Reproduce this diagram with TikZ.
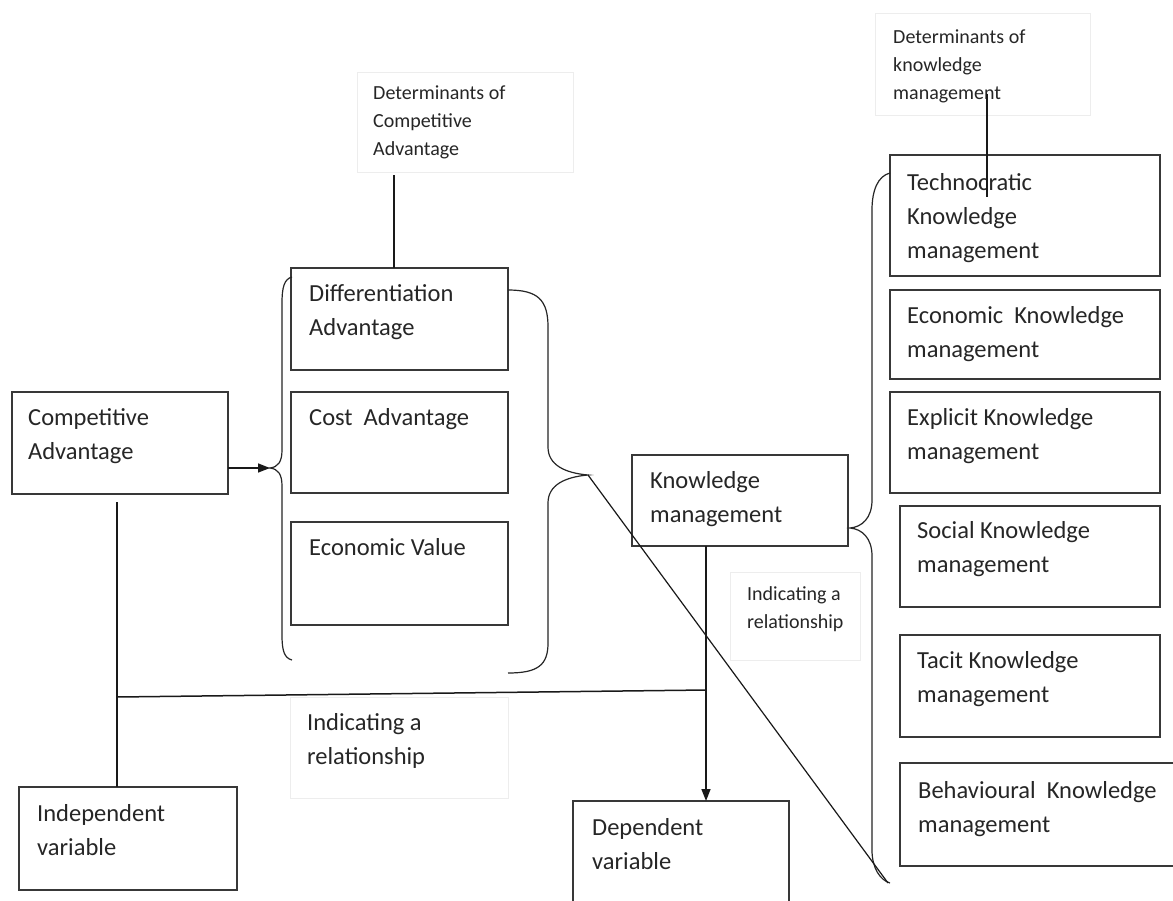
\documentclass[tikz,border=0pt]{standalone}
\usepackage{fontspec}
\setmainfont{Carlito}
\usetikzlibrary{arrows.meta}
\newcommand\bigf{\fontsize{24.5}{34}\selectfont}
\newcommand\smallf{\fontsize{20}{28}\selectfont}
\begin{document}
\begin{tikzpicture}[x=1pt,y=-1pt,
 box/.style={draw=black!78, line width=1.5pt, rectangle, anchor=north west, inner sep=0pt, outer sep=0pt},
 faint/.style={draw=black!7, line width=0.8pt, rectangle, anchor=north west, inner sep=0pt, outer sep=0pt},
 txt/.style={anchor=north west, inner sep=0pt, align=left, font=\bigf, text=black!85},
 stxt/.style={txt, font=\smallf},
 conn/.style={draw=black!90, line width=1.5pt},
 arr/.style={conn, -{Triangle[length=12pt,width=9pt]}},
 brace/.style={draw=black!85, line width=1.2pt}]
\useasboundingbox (0,0) rectangle (1173,900);
\fill[white] (0,0) rectangle (1173,900);
\clip (0,0) rectangle (1173,900);

% faint text frames
\node[faint, minimum width=216, minimum height=100] (dca) at (357,72) {};
\node[faint, minimum width=215, minimum height=102] (dkm) at (875,13) {};
\node[faint, minimum width=130, minimum height=88] (ir) at (730,572) {};
\node[faint, minimum width=218, minimum height=101] (ib) at (290,697) {};

% boxes
\node[box, minimum width=216, minimum height=102] (ca) at (12,392) {};
\node[box, minimum width=217, minimum height=102] (diff) at (291,268) {};
\node[box, minimum width=217, minimum height=101] (cost) at (291,392) {};
\node[box, minimum width=217, minimum height=103] (ev) at (291,522) {};
\node[box, minimum width=216, minimum height=91] (km) at (632,455) {};
\node[box, minimum width=216, minimum height=109] (dep) at (573,801) {};
\node[box, minimum width=218, minimum height=103] (ind) at (19,787) {};
\node[box, minimum width=270, minimum height=121] (tech) at (890,155) {};
\node[box, minimum width=270, minimum height=89] (eco) at (890,290) {};
\node[box, minimum width=270, minimum height=101] (expl) at (890,392) {};
\node[box, minimum width=260, minimum height=101] (soc) at (900,506) {};
\node[box, minimum width=260, minimum height=102] (tac) at (900,635) {};
\node[box, minimum width=285, minimum height=103] (beh) at (900,763) {};

% texts
\node[txt] (tca) at (28,401.2) {\strut Competitive\\Advantage};
\node[txt] (tdiff) at (309,277.2) {\strut Differentiation\\Advantage};
\node[txt] (tcost) at (309,401.2) {\strut Cost\ \ Advantage};
\node[txt] (tev) at (309,531.2) {\strut Economic Value};
\node[txt] (tkm) at (650,464.2) {\strut Knowledge\\management};
\node[txt] (tdep) at (592,811.2) {\strut Dependent\\variable};
\node[txt] (tind) at (37,797.2) {\strut Independent\\variable};
\node[txt] (ttech) at (907,166.2) {\strut Technocratic\\Knowledge\\management};
\node[txt] (teco) at (907,299.2) {\strut Economic\ \ Knowledge\\management};
\node[txt] (texpl) at (907,401.2) {\strut Explicit Knowledge\\management};
\node[txt] (tsoc) at (917,514.2) {\strut Social Knowledge\\management};
\node[txt] (ttac) at (917,644.2) {\strut Tacit Knowledge\\management};
\node[txt] (tbeh) at (918,774.2) {\strut Behavioural\ \ Knowledge\\management};
\node[txt] (tib) at (307,706.2) {\strut Indicating a\\relationship};
\node[stxt] (tdca) at (373,79.4) {\strut Determinants of\\Competitive\\Advantage};
\node[stxt] (tdkm) at (893,23.4) {\strut Determinants of\\knowledge\\management};
\node[stxt] (tir) at (747,580.4) {\strut Indicating a\\relationship};

% brace coordinates
\coordinate (lt) at (270,468);
\coordinate (rt) at (588,475);
\coordinate (kmt) at (850,528);
\coordinate (kme) at (888,883);

% braces
\draw[brace] (292,277) .. controls (284,279) and (282,288) .. (282,303) -- (282,450)
  .. controls (282,462) and (278,467) .. (lt)
  .. controls (278,469) and (282,474) .. (282,486) -- (282,635)
  .. controls (282,650) and (284,658) .. (292,660);
\draw[brace] (508,290) .. controls (538,290) and (548,300) .. (548,327) -- (548,447)
  .. controls (548,465) and (565,473) .. (rt)
  .. controls (565,477) and (548,485) .. (548,503) -- (548,643)
  .. controls (548,665) and (538,673) .. (508,673);
\draw[brace] (890,173) .. controls (878,176) and (872,190) .. (872,210) -- (872,500)
  .. controls (872,518) and (862,527) .. (kmt)
  .. controls (862,529) and (872,538) .. (872,556) -- (872,850)
  .. controls (872,868) and (880,880) .. (890,883);

% connectors
\coordinate (cab) at (117,502);
\coordinate (hl) at (117,697);
\coordinate (hr) at (706,690);
\coordinate (dcl) at (394,175);
\coordinate (dkl) at (987,94);
\coordinate (dke) at (987,197);
\draw[arr] (ca.east |- lt) -- (lt);
\draw[conn] (cab) -- (cab |- ind.north);
\draw[conn] (hl) -- (hr);
\draw[arr] (km.south -| hr) -- (dep.north -| hr);
\draw[conn] (dcl) -- (dcl |- diff.north);
\draw[conn] (dkl) -- (dke);
\draw[conn, line width=1.2pt] (rt) -- (kme);
\end{tikzpicture}
\end{document}
